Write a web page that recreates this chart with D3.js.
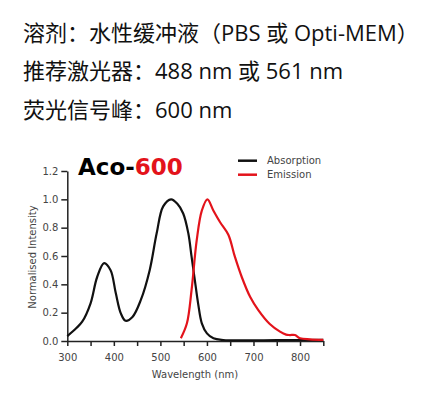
<!DOCTYPE html>
<html>
<head>
<meta charset="utf-8">
<script src="https://cdn.jsdelivr.net/npm/d3@7"></script>
<style>
  body { margin: 0; background: #fff; }
  svg { display: block; }
</style>
</head>
<body>
<div id="chart"></div>
<script>
var infoLines = ["溶剂：水性缓冲液（PBS 或 Opti-MEM）", "推荐激光器：488 nm 或 561 nm", "荧光信号峰：600 nm"];

var absWavelength = [300, 319, 332, 350, 364, 379, 393, 404, 415, 425, 440, 458, 477, 492, 506, 523, 536, 549, 560, 567, 574, 581, 589, 600, 614, 635, 680, 750, 850];
var absValue =      [0.035, 0.09, 0.136, 0.266, 0.45, 0.55, 0.50, 0.34, 0.195, 0.143, 0.17, 0.29, 0.50, 0.76, 0.95, 1.0, 0.97, 0.90, 0.76, 0.595, 0.43, 0.266, 0.125, 0.054, 0.019, 0.007, 0.004, 0.006, 0.008];

var emWavelength = [544, 557, 567, 578, 589, 601, 614, 628, 646, 660, 675, 693, 710, 735, 757, 770, 778, 789, 800, 821, 850];
var emValue =      [0.02, 0.125, 0.36, 0.71, 0.92, 1.0, 0.92, 0.84, 0.75, 0.595, 0.45, 0.31, 0.22, 0.12, 0.066, 0.045, 0.042, 0.042, 0.02, 0.012, 0.008];

var xTicks = [300, 350, 400, 450, 500, 550, 600, 650, 700, 750, 800, 850];
var yTicks = [0, 0.2, 0.4, 0.6, 0.8, 1.0, 1.2];

var legendNames = ["Absorption", "Emission"];
var colors = ["#111111", "#e3131b"];

function init() {
    var w = 441;
    var h = 394;

    var svg = d3.select("#chart")
                .append("svg")
                .attr("width", w)
                .attr("height", h);

    // header text
    svg.selectAll("text.info")
        .data(infoLines)
        .enter()
        .append("text")
        .attr("class", "info")
        .attr("x", 23)
        .attr("y", function(d, i) { return 40.5 + i * 38.7; })
        .attr("font-family", "'Open Sans', 'Noto Sans CJK SC', sans-serif")
        .attr("font-size", 22)
        .attr("fill", "#111")
        .text(function(d) { return d; });

    var xScale = d3.scaleLinear()
                .domain([300, 850])
                .range([67.3, 323.3]);

    var yScale = d3.scaleLinear()
                .domain([0, 1.2])
                .range([341, 171]);

    var xAxis = d3.axisBottom(xScale)
                .tickValues(xTicks)
                .tickSize(5)
                .tickSizeOuter(0)
                .tickPadding(8)
                .tickFormat(function(d) { return d % 100 === 0 ? d : ""; });

    var yAxis = d3.axisLeft(yScale)
                .tickValues(yTicks)
                .tickSize(6)
                .tickSizeOuter(0)
                .tickPadding(3)
                .tickFormat(d3.format(".1f"));

    var gx = svg.append("g")
                .attr("transform", "translate(0," + yScale(0) + ")")
                .call(xAxis);

    var gy = svg.append("g")
                .attr("transform", "translate(" + xScale(300) + ",0)")
                .call(yAxis);

    [gx, gy].forEach(function(g) {
        g.selectAll("path, line")
            .attr("stroke", "#222")
            .attr("stroke-width", 1.5);
        g.selectAll("text")
            .attr("font-family", "'DejaVu Sans', sans-serif")
            .attr("font-size", 10)
            .attr("fill", "#444");
    });

    var line = d3.line()
                .x(function(d) { return xScale(d[0]); })
                .y(function(d) { return yScale(d[1]); })
                .curve(d3.curveCatmullRom.alpha(0.5));

    var absData = d3.zip(absWavelength, absValue);
    var emData = d3.zip(emWavelength, emValue);

    svg.append("path")
        .datum(absData)
        .attr("d", line)
        .attr("fill", "none")
        .attr("stroke", colors[0])
        .attr("stroke-width", 2.2)
        .attr("stroke-linejoin", "round");

    svg.append("path")
        .datum(emData)
        .attr("d", line)
        .attr("fill", "none")
        .attr("stroke", colors[1])
        .attr("stroke-width", 2.2)
        .attr("stroke-linejoin", "round");

    // title
    var title = svg.append("text")
                .attr("x", 78)
                .attr("y", 175)
                .attr("font-family", "'DejaVu Sans', sans-serif")
                .attr("font-weight", "bold")
                .attr("font-size", 23);
    title.append("tspan").attr("fill", "#000").text("Aco-");
    title.append("tspan").attr("fill", colors[1]).text("600");

    // legend
    var legend = svg.selectAll("g.legend")
                .data(legendNames)
                .enter()
                .append("g")
                .attr("class", "legend")
                .attr("transform", function(d, i) { return "translate(238," + (160.7 + i * 14) + ")"; });

    legend.append("line")
        .attr("x1", 0)
        .attr("x2", 19)
        .attr("stroke", function(d, i) { return colors[i]; })
        .attr("stroke-width", 2.5);

    legend.append("text")
        .attr("x", 29)
        .attr("dy", "0.35em")
        .attr("font-family", "'DejaVu Sans', sans-serif")
        .attr("font-size", 10)
        .attr("fill", "#444")
        .text(function(d) { return d; });

    // axis titles
    svg.append("text")
        .attr("x", 195)
        .attr("y", 378)
        .attr("text-anchor", "middle")
        .attr("font-family", "'DejaVu Sans', sans-serif")
        .attr("font-size", 10)
        .attr("fill", "#444")
        .text("Wavelength (nm)");

    svg.append("text")
        .attr("transform", "translate(35.5,257) rotate(-90)")
        .attr("text-anchor", "middle")
        .attr("font-family", "'DejaVu Sans', sans-serif")
        .attr("font-size", 10)
        .attr("fill", "#444")
        .text("Normalised Intensity");
}

window.onload = init;
</script>
</body>
</html>
